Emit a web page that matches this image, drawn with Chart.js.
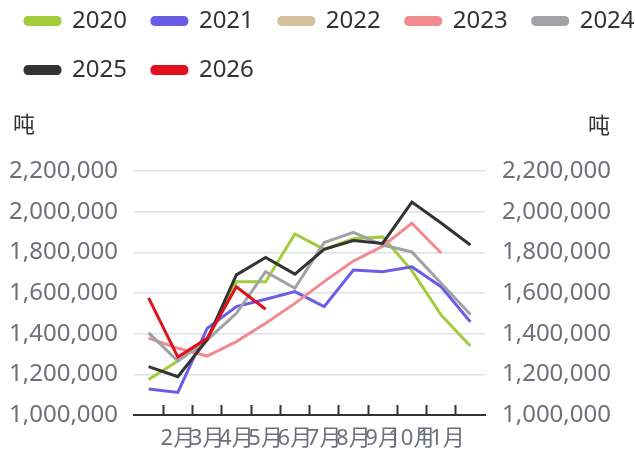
<!DOCTYPE html>
<html>
<head>
<meta charset="utf-8">
<script src="https://cdn.jsdelivr.net/npm/chart.js@4"></script>
<style>
  html, body { margin: 0; padding: 0; overflow: hidden; background: #ffffff; }
  #wrap { position: absolute; left: 0; top: 0; width: 700px; height: 453px; }
</style>
</head>
<body>
<div id="wrap"><canvas id="c"></canvas></div>
<script>
const categories = ['1月','2月','3月','4月','5月','6月','7月','8月','9月','10月','11月','12月'];
const seriesNames = ['2020','2021','2022','2023','2024','2025','2026'];
const values2020 = [1175000, 1265000, 1370000, 1655000, 1655000, 1890000, 1815000, 1867000, 1876000, 1710000, 1492000, 1339000];
const values2021 = [1128000, 1111000, 1426000, 1533000, 1569000, 1607000, 1533000, 1713000, 1705000, 1729000, 1631000, 1458000];
const values2022 = [];
const values2023 = [1378000, 1328000, 1290000, 1361000, 1451000, 1549000, 1656000, 1757000, 1830000, 1943000, 1797000, null];
const values2024 = [1404000, 1265000, 1369000, 1500000, 1705000, 1623000, 1848000, 1898000, 1836000, 1802000, 1648000, 1494000];
const values2025 = [1238000, 1188000, 1370000, 1689000, 1775000, 1693000, 1815000, 1858000, 1844000, 2047000, 1944000, 1836000];
const values2026 = [1576000, 1285000, 1377000, 1631000, 1520000];
const yTicks = [1000000, 1200000, 1400000, 1600000, 1800000, 2000000, 2200000];
const unitLabel = '吨';

const colors = ['#a2cc3c', '#6b5ce6', '#d4c09c', '#f28b8f', '#a0a2a5', '#333333', '#e0101c'];
const allValues = [values2020, values2021, values2022, values2023, values2024, values2025, values2026];

const FONT = "'Noto Sans', 'Noto Sans CJK SC', sans-serif";

const unitPlugin = {
  id: 'unitPlugin',
  afterDraw(chart) {
    const ctx = chart.ctx;
    const yl = chart.scales.y, yr = chart.scales.y1;
    ctx.save();
    ctx.font = "22px 'Noto Sans CJK SC', sans-serif";
    ctx.fillStyle = '#333333';
    ctx.textBaseline = 'middle';
    ctx.textAlign = 'left';
    ctx.fillText(unitLabel, yl.left + 13, chart.chartArea.top - 47);
    ctx.textAlign = 'right';
    ctx.fillText(unitLabel, yr.left + 125, chart.chartArea.top - 46);
    ctx.restore();
  }
};

new Chart(document.getElementById('c'), {
  type: 'line',
  data: {
    labels: categories,
    datasets: seriesNames.map((name, i) => ({
      label: name,
      data: allValues[i],
      borderColor: colors[i],
      backgroundColor: colors[i],
      borderWidth: 3,
      pointRadius: 0,
      pointHoverRadius: 0,
      tension: 0,
      fill: false,
      spanGaps: false,
      order: seriesNames.length - i,
      yAxisID: 'y'
    }))
  },
  options: {
    responsive: true,
    maintainAspectRatio: false,
    animation: false,
    devicePixelRatio: 1,
    layout: { padding: { top: -16, left: 0, right: 0, bottom: 0 } },
    plugins: {
      tooltip: { enabled: false },
      legend: {
        display: true,
        position: 'top',
        align: 'start',
        labels: {
          boxWidth: 35,
          boxHeight: 7,
          useBorderRadius: true,
          borderRadius: 3,
          padding: 25,
          color: '#333333',
          font: { family: FONT, size: 24 },
          sort: (a, b) => a.datasetIndex - b.datasetIndex
        }
      },
      title: {
        display: true,
        text: ' ',
        weight: 500,
        font: { size: 10, lineHeight: 1.2 },
        padding: { top: 0, bottom: 67 }
      }
    },
    scales: {
      x: {
        type: 'category',
        offset: true,
        grid: {
          display: true,
          offset: true,
          drawOnChartArea: false,
          drawTicks: true,
          tickLength: -10,
          tickWidth: 2,
          tickColor: (c) => (c.type === 'tick' && c.index > 0) ? '#333333' : 'rgba(0,0,0,0)'
        },
        border: { display: true, color: '#333333', width: 2 },
        ticks: {
          autoSkip: false,
          maxRotation: 0,
          minRotation: 0,
          padding: 21,
          color: '#6e7079',
          font: { family: FONT, size: 22 },
          callback: function(v, i) {
            return (i === 0 || i === categories.length - 1) ? '' : categories[i];
          }
        },
        afterFit: (s) => { s.height = 38; }
      },
      y: {
        position: 'left',
        min: yTicks[0],
        max: yTicks[yTicks.length - 1],
        afterBuildTicks: (s) => { s.ticks = yTicks.map(v => ({ value: v })); },
        grid: { color: '#dcdfec', lineWidth: 1.5, drawTicks: false },
        border: { display: false },
        ticks: {
          padding: 16,
          color: '#6e7079',
          font: { family: FONT, size: 24 },
          callback: (v) => Number(v).toLocaleString('en-US')
        },
        afterFit: (s) => { s.width = 134; }
      },
      y1: {
        position: 'right',
        min: yTicks[0],
        max: yTicks[yTicks.length - 1],
        afterBuildTicks: (s) => { s.ticks = yTicks.map(v => ({ value: v })); },
        grid: { drawOnChartArea: false, drawTicks: false },
        border: { display: false },
        ticks: {
          padding: 17,
          color: '#6e7079',
          font: { family: FONT, size: 24 },
          callback: (v) => Number(v).toLocaleString('en-US')
        },
        afterFit: (s) => { s.width = 215; }
      }
    }
  },
  plugins: [unitPlugin]
});
</script>
</body>
</html>
